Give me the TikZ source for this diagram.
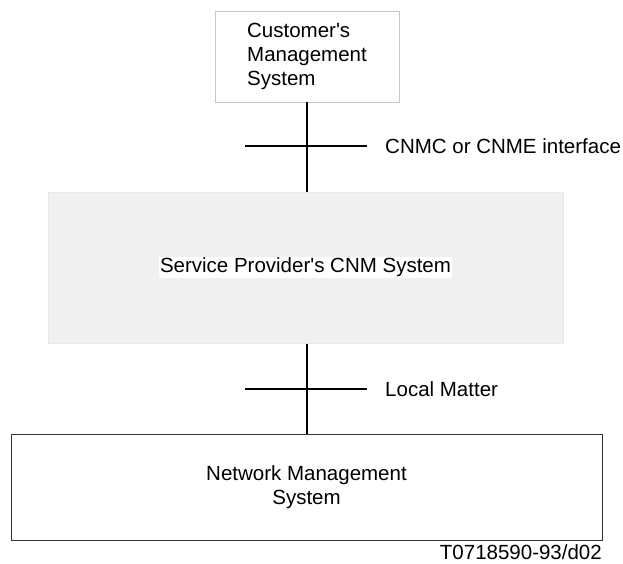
\documentclass[tikz,border=0pt]{standalone}
\usepackage{fontspec}
\setmainfont{Liberation Sans}
\usepackage{tikz}
\usetikzlibrary{positioning}

\begin{document}
\begin{tikzpicture}[x=1pt, y=-1pt, font=\fontsize{20.5}{24}\selectfont,
		sysbox/.style = {draw, rectangle, inner sep=0pt},
		link/.style = {line width=1.6pt}]
	\useasboundingbox (0,0) rectangle (623,563);
	\node[sysbox, draw=black!22, line width=0.8pt, minimum width=184pt, minimum height=91pt, align=left] (cms) at (307,56.5) {Customer\textquotesingle s\\Management\\System};
	\node[sysbox, draw=black!9, fill=black!6, line width=1pt, minimum width=515pt, minimum height=151pt] (cnm) at (305.5,267.5) {};
	\node[fill=white, inner sep=1pt] (cnmtext) at (cnm.center) {Service Provider\textquotesingle s CNM System};
	\node[sysbox, draw=black!80, line width=1pt, minimum width=591pt, minimum height=106pt, align=center] (nms) at (306.5,487) {Network Management\\System};
	\draw[link] (cms.south) -- (cms.south |- cnm.north);
	\draw[link] (cms.south |- cnm.south) -- (cms.south |- nms.north);
	\coordinate (ifL) at (245,146);
	\coordinate (ifR) at (367,146);
	\coordinate (lmL) at (245,389);
	\coordinate (lmR) at (367,389);
	\draw[link] (ifL) -- (ifR);
	\draw[link] (lmL) -- (lmR);
	\node[right=18pt of ifR, inner sep=0pt] (iflabel) {CNMC or CNME interface};
	\node[right=18pt of lmR, inner sep=0pt] (lmlabel) {Local Matter};
	\node[anchor=base east, inner sep=0pt] (figno) at (602,559) {T0718590-93/d02};
\end{tikzpicture}
\end{document}
